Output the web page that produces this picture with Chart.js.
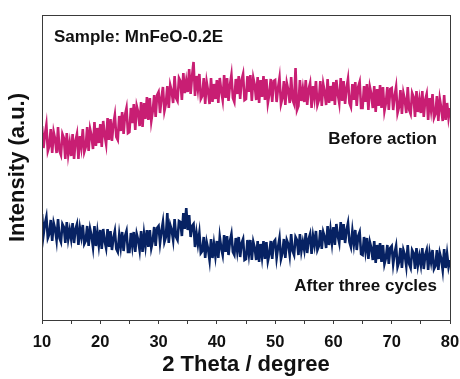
<!DOCTYPE html>
<html>
<head>
<meta charset="utf-8">
<script src="https://cdn.jsdelivr.net/npm/chart.js@4"></script>
<style>
    html, body { margin: 0; padding: 0; background: #fff; }
</style>
</head>
<body>
<canvas id="xrdChart" width="460" height="379"></canvas>
<script>
// XRD scan: 10-80 degrees, 0.25 degree step
const scanStart = 10;
const scanStep = 0.25;
const xTicks = [10, 20, 30, 40, 50, 60, 70, 80];

// Before action (pink trace)
const beforeValues = [
    194,172,185,195,169,174,191,167,188,181,167,193,169,165,186,182,161,187,166,177,
    164,186,161,179,186,161,184,173,191,168,173,193,169,191,184,171,198,174,192,177,
    196,173,199,185,176,202,180,201,179,196,205,183,180,204,189,208,186,205,212,187,
    188,212,197,216,190,214,208,194,218,193,217,201,223,200,222,199,209,225,203,225,
    228,207,222,233,209,216,234,212,235,229,217,244,222,219,242,239,220,247,227,239,
    228,251,226,244,258,224,244,231,246,221,224,242,216,238,229,216,242,218,236,221,
    240,217,242,229,220,245,222,242,219,235,245,222,218,241,226,244,221,240,246,220,
    221,244,228,245,219,242,235,220,243,217,240,223,244,220,241,217,226,241,218,239,
    240,218,232,242,216,222,239,215,237,230,217,243,220,216,252,210,214,240,219,231,
    218,240,215,231,237,212,234,222,239,215,220,239,214,236,228,215,241,217,234,219,
    238,215,240,226,217,242,219,239,216,232,241,217,213,236,220,238,214,233,238,212,
    212,234,218,236,210,233,226,212,234,208,231,214,235,212,233,209,217,233,210,231,
    232,210,224,233,207,213,230,206,227,220,207,233,210,206,227,223,203,229,208,220,
    207,229,203,220,226,200,222,210,226,202,206,224,199,221,212,199,225,200,217,202,
    212
];

// After three cycles (navy trace)
const afterValues = [
    106,85,96,103,82,86,100,79,97,91,80,101,82,78,96,93,77,98,81,90,
    81,97,77,91,96,75,92,83,95,76,79,94,74,91,84,73,94,74,88,75,
    90,71,91,79,72,91,73,89,70,82,89,71,68,85,73,88,69,84,89,68,
    68,87,74,88,68,86,80,70,89,68,86,74,90,73,90,72,79,93,74,92,
    94,77,89,98,78,83,107,77,95,90,80,101,83,80,99,98,84,107,91,112,
    90,105,83,94,96,73,87,76,87,67,69,83,62,78,71,60,81,62,76,64,
    79,62,83,72,65,85,68,84,65,79,86,68,65,82,69,83,63,77,81,60,
    61,80,66,80,60,78,72,60,79,58,76,63,79,61,78,59,66,79,61,78,
    80,62,73,82,61,67,81,62,80,76,65,86,69,65,83,80,65,86,69,78,
    70,87,67,81,86,66,84,75,89,70,74,90,71,88,83,72,94,75,90,77,
    93,75,96,84,77,98,80,96,77,90,97,78,73,89,76,90,70,84,88,66,
    65,83,69,82,61,78,72,60,79,57,75,61,77,58,75,56,62,75,56,72,
    74,56,67,74,53,58,72,52,70,65,54,75,56,52,70,67,51,72,55,64,
    55,72,51,65,70,50,67,58,70,51,54,70,50,67,61,50,71,52,66,53,
    60
];

const seriesLabels = ['Before action', 'After three cycles'];

function toPoints(values) {
    return values.map((v, i) => ({ x: scanStart + i * scanStep, y: v }));
}

const FONT = '"Liberation Sans", Arial, sans-serif';

// Frame round the plot area
const framePlugin = {
    id: 'frame',
    afterDatasetsDraw(chart) {
        const { ctx, chartArea: a } = chart;
        ctx.save();
        ctx.strokeStyle = '#3a3a3a';
        ctx.lineWidth = 1;
        ctx.strokeRect(Math.round(a.left) + 0.5, Math.round(a.top) + 0.5,
            Math.round(a.right - a.left), Math.round(a.bottom - a.top));
        ctx.restore();
    }
};

// Text labels inside the plot
const notesPlugin = {
    id: 'notes',
    afterDraw(chart) {
        const { ctx, chartArea: a, scales: { y } } = chart;
        ctx.save();
        ctx.fillStyle = '#111';
        ctx.font = 'bold 17px ' + FONT;
        ctx.textBaseline = 'middle';
        ctx.textAlign = 'left';
        ctx.fillText('Sample: MnFeO-0.2E', a.left + 12, y.getPixelForValue(283));
        ctx.textAlign = 'right';
        ctx.fillText(seriesLabels[0], a.right - 13, y.getPixelForValue(181));
        ctx.fillText(seriesLabels[1], a.right - 13, y.getPixelForValue(34));
        ctx.restore();
    }
};

const ctx = document.getElementById('xrdChart').getContext('2d');
new Chart(ctx, {
    type: 'line',
    data: {
        datasets: [{
            label: seriesLabels[0],
            data: toPoints(beforeValues),
            borderColor: '#C81E73',
            borderWidth: 2.6,
            pointRadius: 0,
            tension: 0,
            fill: false
        }, {
            label: seriesLabels[1],
            data: toPoints(afterValues),
            borderColor: '#072263',
            borderWidth: 2.6,
            pointRadius: 0,
            tension: 0,
            fill: false
        }]
    },
    options: {
        responsive: false,
        animation: false,
        devicePixelRatio: 1,
        layout: { padding: { left: 0, top: 15, right: 10, bottom: 0 } },
        plugins: {
            legend: { display: false },
            tooltip: { enabled: false }
        },
        scales: {
            x: {
                type: 'linear',
                min: 10,
                max: 80,
                ticks: {
                    stepSize: 5,
                    autoSkip: false,
                    maxRotation: 0,
                    padding: 9,
                    color: '#111',
                    font: { family: FONT, size: 16.5, weight: 'bold' },
                    callback: (v) => xTicks.includes(v) ? v : ''
                },
                grid: {
                    drawOnChartArea: false,
                    drawTicks: true,
                    tickLength: 4,
                    color: '#3a3a3a'
                },
                border: { display: true, color: '#3a3a3a', width: 1 },
                title: {
                    display: true,
                    text: '2 Theta / degree',
                    color: '#111',
                    font: { family: FONT, size: 22, weight: 'bold' },
                    padding: { top: 0, bottom: 1 }
                },
                afterFit: (s) => {
                    s.height = 59;
                    s.paddingLeft = 0;
                    s.paddingRight = 0;
                }
            },
            y: {
                min: 0,
                max: 305,
                ticks: { display: false },
                grid: { display: false, drawTicks: false },
                border: { display: true, color: '#3a3a3a', width: 1 },
                title: {
                    display: true,
                    text: 'Intensity (a.u.)',
                    color: '#111',
                    font: { family: FONT, size: 22, weight: 'bold' },
                    padding: { top: 5, bottom: 0 }
                },
                afterFit: (s) => { s.width = 42; }
            }
        }
    },
    plugins: [framePlugin, notesPlugin]
});
</script>
</body>
</html>
